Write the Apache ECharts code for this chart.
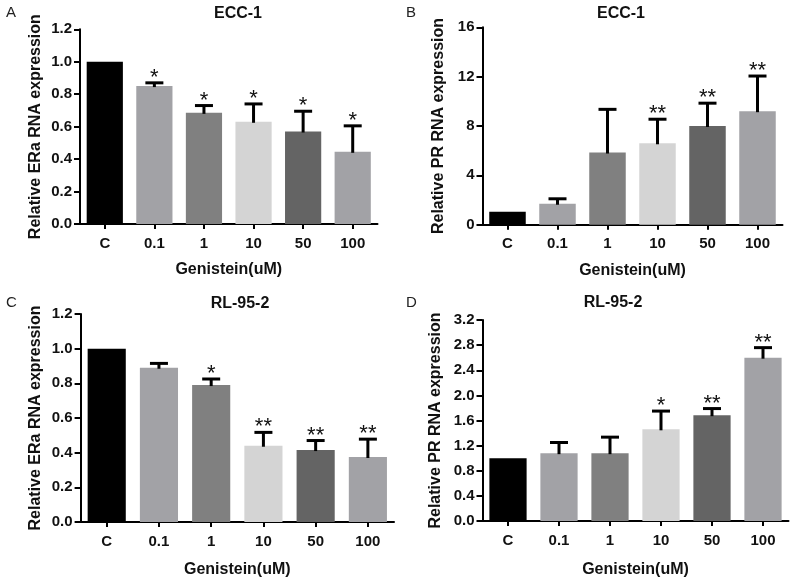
<!DOCTYPE html>
<html>
<head>
<meta charset="utf-8">
<script src="https://cdn.jsdelivr.net/npm/echarts@6/dist/echarts.min.js"></script>
<style>
html,body{margin:0;padding:0;background:#fff;}
#chart{width:800px;height:579px;}
</style>
</head>
<body>
<div id="chart"></div>
<script>
// ---- data ----
const categories = ['C', '0.1', '1', '10', '50', '100'];
const barColors = ['#000000', '#a2a2a6', '#808080', '#d4d4d4', '#646464', '#a2a2a6'];

const aMean = [1.0, 0.85, 0.685, 0.63, 0.57, 0.445];
const aErr  = [0, 0.02, 0.045, 0.11, 0.125, 0.16];
const aSig  = ['', '*', '*', '*', '*', '*'];

const bMean = [1.05, 1.7, 5.85, 6.6, 8.0, 9.2];
const bErr  = [0, 0.4, 3.5, 1.95, 1.85, 2.85];
const bSig  = ['', '', '', '**', '**', '**'];

const cMean = [1.0, 0.89, 0.79, 0.44, 0.415, 0.375];
const cErr  = [0, 0.025, 0.035, 0.077, 0.055, 0.103];
const cSig  = ['', '', '*', '**', '**', '**'];

const dMean = [1.0, 1.08, 1.08, 1.46, 1.685, 2.6];
const dErr  = [0, 0.17, 0.255, 0.29, 0.105, 0.16];
const dSig  = ['', '', '', '*', '**', '**'];

const yMax      = [1.2, 16, 1.2, 3.2];
const yInterval = [0.2, 4, 0.2, 0.4];
const yDecimals = [1, 0, 1, 1];

const panelLetters = ['A', 'B', 'C', 'D'];
const panelTitles  = ['ECC-1', 'ECC-1', 'RL-95-2', 'RL-95-2'];
const yNames = ['Relative ERa RNA expression', 'Relative PR RNA expression',
                'Relative ERa RNA expression', 'Relative PR RNA expression'];
const xName = 'Genistein(uM)';

// ---- layout ----
const FONT = '"Liberation Sans", Arial, Helvetica, sans-serif';
const grids = [
  {left: 80,    top: 29.3, width: 297.5, height: 194.7},
  {left: 482.5, top: 27.3, width: 300,   height: 197.4},
  {left: 80.6,  top: 314,  width: 313.4, height: 208},
  {left: 482.5, top: 320,  width: 306,   height: 201.3}
];
const titlePos  = [[238, 6], [621, 6], [240, 296], [613, 295]];
const letterPos = [[6, 5], [406, 5], [6, 295], [406, 295]];
const yNameGap  = [36, 36, 37, 39];
const xNameGap  = [38, 38, 40, 41];

const means = [aMean, bMean, cMean, dMean];
const errs  = [aErr, bErr, cErr, dErr];
const sigs  = [aSig, bSig, cSig, dSig];

const option = {
  animation: false,
  backgroundColor: '#ffffff',
  title: [],
  grid: [],
  xAxis: [],
  yAxis: [],
  series: []
};

for (let p = 0; p < 4; p++) {
  option.title.push({
    text: panelTitles[p], left: titlePos[p][0], top: titlePos[p][1], textAlign: 'center', padding: 0,
    textStyle: {fontFamily: FONT, fontSize: 16, fontWeight: 'bold', color: '#111'}
  });
  option.title.push({
    text: panelLetters[p], left: letterPos[p][0], top: letterPos[p][1], padding: 0,
    textStyle: {fontFamily: FONT, fontSize: 15, fontWeight: 'normal', color: '#222'}
  });
  option.grid.push(Object.assign({containLabel: false}, grids[p]));
  option.xAxis.push({
    type: 'category', gridIndex: p, data: categories,
    name: xName, nameLocation: 'middle', nameGap: xNameGap[p],
    nameTextStyle: {fontFamily: FONT, fontSize: 16, fontWeight: 'bold', color: '#111'},
    axisLine: {lineStyle: {color: '#000', width: 2}},
    axisTick: {show: true, alignWithLabel: true, length: 5, lineStyle: {color: '#000', width: 2}},
    axisLabel: {fontFamily: FONT, fontSize: 15, fontWeight: 'bold', color: '#111', margin: 12},
    splitLine: {show: false}
  });
  const dec = yDecimals[p];
  option.yAxis.push({
    type: 'value', gridIndex: p, min: 0, max: yMax[p], interval: yInterval[p],
    name: yNames[p], nameLocation: 'middle', nameGap: yNameGap[p],
    nameTextStyle: {fontFamily: FONT, fontSize: 16, fontWeight: 'bold', color: '#111'},
    axisLine: {show: true, lineStyle: {color: '#000', width: 2}},
    axisTick: {show: true, length: 6, lineStyle: {color: '#000', width: 2}},
    axisLabel: {fontFamily: FONT, fontSize: 15, fontWeight: 'bold', color: '#111', margin: 8,
      formatter: v => Number(v).toFixed(dec)},
    splitLine: {show: false}
  });
  option.series.push({
    type: 'bar', xAxisIndex: p, yAxisIndex: p,
    barCategoryGap: '27%',
    data: means[p].map((v, i) => ({value: v, itemStyle: {color: barColors[i]}})),
    z: 2
  });
  const m = means[p], e = errs[p], s = sigs[p];
  option.series.push({
    type: 'custom', xAxisIndex: p, yAxisIndex: p, z: 3, clip: false,
    data: m.map((v, i) => [i, v, e[i]]),
    encode: {x: 0, y: 1},
    renderItem: function (params, api) {
      const i = api.value(0), mean = api.value(1), err = api.value(2);
      const p0 = api.coord([i, mean]);
      const p1 = api.coord([i, mean + err]);
      const children = [];
      if (err > 0) {
        children.push({type: 'line', shape: {x1: p0[0], y1: p0[1] + 1, x2: p1[0], y2: p1[1]},
          style: {stroke: '#000', lineWidth: 3}});
        children.push({type: 'line', shape: {x1: p1[0] - 9, y1: p1[1], x2: p1[0] + 9, y2: p1[1]},
          style: {stroke: '#000', lineWidth: 3}});
      }
      const sig = s[params.dataIndex];
      if (sig) {
        children.push({type: 'text', x: p1[0], y: p1[1] + 6,
          style: {text: sig, fontFamily: FONT, fontSize: 22, fill: '#111', align: 'center', verticalAlign: 'bottom'}});
      }
      return {type: 'group', children: children};
    }
  });
}

const chart = echarts.init(document.getElementById('chart'), null, {renderer: 'canvas'});
chart.setOption(option);
</script>
</body>
</html>
